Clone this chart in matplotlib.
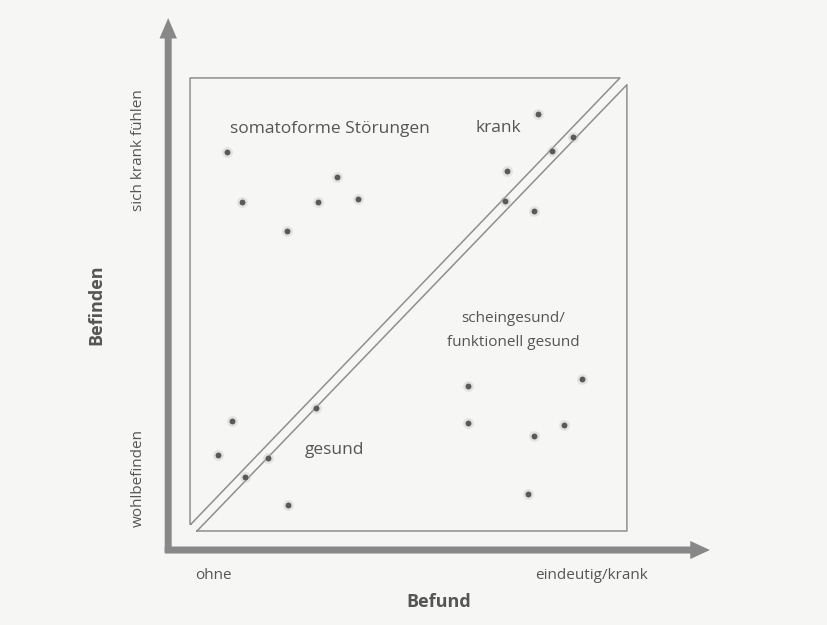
import matplotlib
matplotlib.use("Agg")
import matplotlib.pyplot as plt
from matplotlib.patches import FancyArrow

# Data (Befund 0-100 horizontal, Befinden 0-100 vertical)
somato_x = [8.5, 11.9, 22.2, 29.3, 33.6, 38.4]
somato_y = [83.7, 72.6, 66.2, 72.6, 78.1, 73.3]
krank_x = [79.6, 87.6, 82.8, 72.5, 72.1, 78.7]
krank_y = [92.1, 87.0, 83.9, 79.5, 72.8, 70.6]
schein_x = [63.6, 89.7, 63.6, 85.6, 78.7, 77.3]
schein_y = [32.0, 33.6, 23.8, 23.4, 21.0, 8.2]
gesund_x = [9.6, 6.4, 12.6, 17.8, 28.8, 22.4]
gesund_y = [24.3, 16.8, 11.9, 16.1, 27.2, 5.7]

fig = plt.figure(figsize=(8.27, 6.25), dpi=100)
fig.patch.set_facecolor("#f6f6f5")
ax = fig.add_axes([0, 0, 1, 1])
ax.set_facecolor("#f6f6f5")
ax.set_xlim(-43.5, 145.8)
ax.set_ylim(-20.75, 117.2)
ax.axis("off")

lc = "#8f8f8f"
# upper-left triangle
ax.plot([0.2, 0, 0, 98.4, 0.2], [1.5, 1.5, 100, 100, 1.5], color=lc, lw=1.1)
# lower-right triangle
ax.plot([1.6, 100, 100, 1.6], [0, 0, 98.5, 0], color=lc, lw=1.1)

# axes arrows
ac = "#888888"
ax.add_patch(FancyArrow(-5.0, -4.6, 0, 117.8, width=1.6, head_width=4.0,
                        head_length=4.5, length_includes_head=True,
                        color=ac, lw=0))
ax.add_patch(FancyArrow(-5.8, -4.2, 124.8, 0, width=1.55, head_width=4.0,
                        head_length=4.5, length_includes_head=True,
                        color=ac, lw=0))

dc = "#5a5a5a"
for xs, ys in [(somato_x, somato_y), (krank_x, krank_y),
               (schein_x, schein_y), (gesund_x, gesund_y)]:
    ax.scatter(xs, ys, s=60, color="#bdbdbd", alpha=0.35, lw=0, zorder=3)
    ax.scatter(xs, ys, s=18, color=dc, lw=0, zorder=4)

tc = "#555555"
fam = ["Open Sans", "DejaVu Sans"]
fs = 12.5
ax.text(9.2, 88.7, "somatoforme Störungen", fontsize=fs, color=tc,
        family=fam, ha="left", va="center")
ax.text(65.4, 89.0, "krank", fontsize=fs, color=tc, family=fam,
        ha="left", va="center")
ax.text(73.9, 47.0, "scheingesund/", fontsize=11, color=tc, family=fam,
        ha="center", va="center")
ax.text(73.9, 41.7, "funktionell gesund", fontsize=11, color=tc, family=fam,
        ha="center", va="center")
ax.text(26.3, 17.9, "gesund", fontsize=fs, color=tc, family=fam,
        ha="left", va="center")

ax.text(-11.9, 84.1, "sich krank fühlen", fontsize=11, color=tc, family=fam,
        ha="center", va="center", rotation=90)
ax.text(-11.9, 11.7, "wohlbefinden", fontsize=11, color=tc, family=fam,
        ha="center", va="center", rotation=90)
ax.text(-21.5, 49.9, "Befinden", fontsize=13, color=tc, family=fam,
        ha="center", va="center", rotation=90, fontweight="bold")
ax.text(5.3, -9.9, "ohne", fontsize=11, color=tc, family=fam,
        ha="center", va="center")
ax.text(92.0, -9.9, "eindeutig/krank", fontsize=11, color=tc, family=fam,
        ha="center", va="center")
ax.text(57.0, -15.7, "Befund", fontsize=13, color=tc, family=fam,
        ha="center", va="center", fontweight="bold")

fig.savefig("out.png", dpi=100, facecolor=fig.get_facecolor())
